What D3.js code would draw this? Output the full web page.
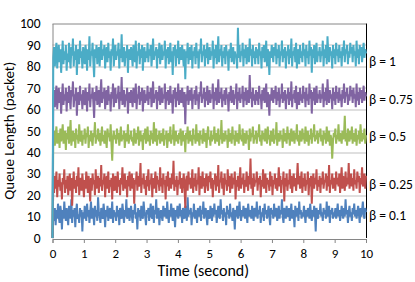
<!DOCTYPE html>
<meta charset="utf-8">
<script src="https://d3js.org/d3.v7.min.js"></script>
<style>
  body { margin: 0; background: #fff; }
  text { font-family: Carlito, Lato, "Liberation Sans", sans-serif; fill: #000; }
</style>
<div id="my_dataviz"></div>

<script>

// Data: queue length samples over 0..10 s, one array per beta
var xTicks = [0, 1, 2, 3, 4, 5, 6, 7, 8, 9, 10];
var yTicks = [0, 10, 20, 30, 40, 50, 60, 70, 80, 90, 100];
var labels = ["β = 0.1", "β = 0.25", "β = 0.5", "β = 0.75", "β = 1"];
var labelLevels = [10.7, 25, 47.5, 64.8, 82.5];
var colors = ["#4F81BD", "#C0504D", "#9BBB59", "#8064A2", "#4BACC6"];

var beta01 = [0, 11, 8, 14, 6, 13, 9, 16, 10, 7, 15, 12, 4, 13, 9, 17, 11, 8, 14, 10,
  6, 15, 12, 9, 18, 7, 13, 10, 14, 5, 12, 16, 9, 11, 7, 14, 10, 13, 3, 12,
  9, 15, 11, 8, 16, 10, 13, 7, 12, 17, 9, 14, 11, 6, 15, 10, 13, 8, 19, 12,
  10, 7, 14, 11, 9, 16, 12, 5, 13, 10, 15, 8, 12, 14, 9, 11, 17, 7, 13, 10,
  12, 8, 15, 10, 13, 6, 14, 11, 9, 16, 12, 7, 13, 10, 18, 9, 11, 14, 8, 12,
  15, 10, 7, 13, 11, 16, 9, 12, 4, 14, 10, 13, 8, 15, 11, 9, 17, 12, 10, 6,
  13, 11, 14, 8, 12, 16, 10, 9, 15, 7, 13, 11, 18, 9, 12, 14, 6, 11, 13, 10,
  8, 15, 12, 10, 14, 9, 17, 11, 7, 13, 10, 16, 12, 8, 14, 11, 5, 13, 10, 15,
  9, 12, 16, 10, 13, 7, 14, 11, 9, 15, 12, 8, 19, 10, 13, 11, 14, 6, 12, 10,
  16, 9, 13, 11, 7, 14, 12, 10, 15, 8, 13, 11, 17, 9, 12, 14, 10, 6, 13, 11,
  9, 15, 12, 8, 14, 10, 16, 11, 13, 7, 12, 15, 10, 9, 18, 11, 13, 8, 14, 10,
  12, 6, 15, 11, 13, 9, 16, 10, 12, 8, 14, 11, 4, 13, 10, 15, 9, 12, 17, 11,
  8, 13, 10, 15, 12, 9, 14, 11, 7, 16, 12, 10, 13, 9, 15, 11, 8, 14, 12, 10,
  17, 9, 13, 11, 15, 7, 12, 10, 14, 8, 16, 11, 13, 9, 12, 15, 10, 6, 14, 11,
  13, 9, 16, 10, 12, 14, 8, 11, 15, 9, 13, 11, 18, 10, 7, 14, 12, 9, 15, 11,
  10, 14, 8, 12, 16, 9, 13, 11, 5, 15, 10, 12, 14, 8, 17, 11, 13, 9, 12, 10,
  15, 11, 7, 13, 10, 14, 12, 9, 16, 11, 8, 13, 10, 15, 12, 3, 14, 11, 9, 13,
  11, 16, 10, 12, 8, 14, 11, 13, 9, 17, 10, 12, 15, 7, 13, 11, 14, 9, 12, 10,
  14, 9, 12, 16, 10, 13, 8, 11, 15, 12, 9, 14, 10, 18, 11, 13, 7, 12, 15, 10,
  12, 8, 14, 11, 16, 10, 13, 9, 12, 15, 11, 7, 14, 10, 13, 17, 11, 9, 14, 12];

var beta025 = [0, 25, 21, 29, 23, 31, 19, 27, 24, 30, 22, 26, 18, 28, 25, 32, 21, 27, 23, 29,
  20, 26, 30, 22, 28, 15, 25, 31, 23, 27, 21, 29, 24, 33, 20, 26, 28, 22, 30, 25,
  19, 27, 23, 31, 26, 21, 29, 24, 17, 28, 22, 30, 25, 27, 20, 32, 23, 26, 29, 21,
  28, 24, 34, 22, 27, 25, 30, 19, 26, 29, 23, 31, 21, 27, 24, 28, 18, 30, 25, 22,
  29, 26, 21, 31, 24, 27, 20, 28, 25, 33, 22, 26, 30, 23, 27, 19, 29, 24, 31, 22,
  26, 30, 23, 28, 16, 27, 25, 31, 22, 29, 24, 26, 35, 21, 28, 25, 30, 23, 27, 20,
  29, 24, 32, 22, 27, 25, 30, 19, 28, 23, 26, 31, 21, 29, 25, 27, 22, 33, 24, 28,
  21, 30, 25, 27, 18, 29, 24, 31, 22, 26, 28, 23, 30, 25, 36, 22, 27, 24, 29, 20,
  27, 25, 31, 23, 28, 21, 26, 30, 24, 14, 27, 29, 22, 31, 25, 28, 23, 26, 32, 21,
  28, 24, 30, 22, 27, 25, 33, 20, 29, 26, 23, 31, 24, 28, 21, 27, 30, 25, 22, 29,
  26, 31, 23, 28, 19, 27, 25, 30, 22, 29, 24, 34, 21, 27, 26, 31, 23, 28, 20, 30,
  25, 27, 22, 32, 24, 29, 21, 26, 30, 23, 28, 25, 31, 18, 27, 24, 29, 22, 26, 33,
  23, 28, 25, 30, 21, 27, 24, 31, 26, 22, 29, 25, 37, 23, 28, 20, 30, 24, 27, 26,
  31, 22, 28, 25, 29, 19, 27, 24, 32, 23, 26, 30, 21, 28, 25, 27, 22, 31, 24, 29,
  20, 27, 25, 30, 23, 28, 22, 26, 33, 24, 29, 21, 27, 25, 31, 17, 28, 24, 30, 22,
  27, 25, 32, 23, 29, 21, 26, 30, 24, 28, 22, 27, 35, 25, 29, 23, 26, 31, 21, 28,
  24, 30, 22, 27, 25, 31, 20, 28, 24, 29, 16, 26, 30, 23, 28, 25, 32, 22, 27, 24,
  29, 21, 28, 25, 31, 23, 27, 26, 30, 22, 29, 24, 34, 21, 27, 25, 30, 23, 28, 26,
  22, 31, 25, 28, 24, 30, 21, 27, 33, 23, 29, 26, 22, 31, 24, 28, 25, 35, 23, 27,
  30, 24, 28, 22, 32, 25, 27, 23, 31, 26, 29, 21, 28, 25, 33, 24, 27, 30, 23, 29];

var beta05 = [0, 46, 50, 43, 48, 52, 44, 47, 49, 42, 51, 45, 48, 53, 44, 47, 50, 41, 49, 46,
  52, 44, 48, 55, 43, 47, 50, 45, 49, 42, 51, 46, 48, 44, 53, 47, 45, 50, 43, 48,
  46, 51, 44, 49, 47, 52, 42, 48, 45, 50, 46, 43, 49, 47, 54, 44, 48, 46, 51, 45,
  49, 43, 47, 52, 45, 48, 44, 50, 46, 42, 51, 47, 49, 45, 53, 44, 36, 47, 50, 46,
  48, 44, 51, 46, 49, 43, 47, 52, 45, 48, 46, 50, 42, 47, 49, 45, 53, 44, 48, 46,
  50, 45, 47, 43, 51, 48, 44, 49, 46, 52, 43, 47, 50, 45, 48, 41, 49, 46, 51, 44,
  47, 52, 45, 48, 43, 50, 46, 49, 44, 54, 47, 45, 51, 43, 48, 46, 50, 44, 47, 49,
  45, 51, 43, 48, 46, 50, 42, 47, 49, 45, 52, 44, 48, 46, 53, 43, 47, 50, 45, 48,
  44, 49, 46, 51, 43, 47, 50, 45, 48, 40, 49, 46, 52, 44, 47, 50, 45, 48, 43, 51,
  46, 48, 44, 53, 45, 49, 47, 43, 50, 46, 48, 44, 51, 47, 45, 49, 42, 48, 52, 46,
  47, 43, 50, 45, 48, 46, 52, 44, 49, 47, 45, 51, 43, 48, 46, 55, 44, 49, 47, 45,
  50, 46, 48, 42, 51, 45, 47, 49, 44, 52, 46, 48, 43, 50, 47, 45, 49, 44, 53, 46,
  48, 45, 51, 43, 49, 47, 44, 50, 46, 48, 41, 51, 45, 49, 47, 52, 44, 48, 46, 50,
  44, 49, 47, 53, 45, 48, 43, 50, 46, 49, 45, 51, 47, 44, 52, 46, 48, 43, 50, 47,
  45, 51, 44, 48, 46, 54, 43, 49, 47, 45, 50, 46, 48, 42, 51, 45, 49, 47, 44, 52,
  46, 49, 43, 48, 51, 45, 47, 50, 44, 49, 46, 53, 45, 48, 43, 50, 47, 45, 51, 46,
  49, 44, 52, 47, 45, 50, 43, 48, 46, 51, 44, 49, 47, 53, 45, 48, 46, 50, 44, 49,
  47, 51, 45, 48, 43, 50, 46, 49, 44, 52, 47, 45, 50, 43, 48, 46, 37, 45, 49, 47,
  51, 44, 48, 46, 53, 45, 49, 47, 44, 50, 46, 48, 57, 45, 49, 43, 51, 47, 45, 50,
  46, 52, 44, 49, 47, 45, 51, 43, 48, 46, 50, 44, 53, 47, 45, 49, 46, 51, 44, 48];

var beta075 = [0, 65, 69, 61, 67, 71, 60, 66, 70, 63, 68, 58, 66, 72, 62, 67, 64, 70, 59, 68,
  63, 71, 65, 60, 69, 66, 73, 61, 67, 64, 70, 57, 66, 68, 62, 71, 64, 67, 60, 69,
  65, 62, 70, 66, 59, 68, 64, 72, 61, 67, 65, 70, 63, 56, 68, 64, 71, 62, 66, 69,
  61, 67, 74, 63, 68, 65, 70, 60, 66, 69, 62, 71, 64, 67, 59, 68, 65, 72, 61, 66,
  70, 63, 67, 65, 71, 60, 68, 64, 75, 62, 66, 69, 61, 67, 64, 70, 58, 66, 68, 63,
  69, 65, 61, 70, 66, 63, 72, 60, 67, 65, 71, 62, 68, 64, 70, 59, 66, 69, 63, 67,
  64, 71, 62, 68, 65, 70, 61, 66, 73, 63, 67, 65, 69, 60, 68, 64, 71, 62, 66, 70,
  63, 67, 65, 72, 60, 68, 64, 69, 62, 66, 71, 63, 67, 58, 69, 65, 70, 61, 68, 64,
  72, 62, 66, 69, 63, 70, 65, 61, 68, 53, 67, 64, 71, 62, 66, 69, 64, 70, 60, 67,
  65, 69, 62, 71, 64, 67, 60, 68, 66, 73, 63, 67, 65, 70, 61, 68, 64, 71, 62, 66,
  69, 63, 67, 65, 72, 60, 68, 64, 70, 62, 66, 74, 63, 68, 65, 70, 61, 67, 64, 69,
  62, 70, 65, 67, 59, 68, 64, 71, 63, 66, 69, 62, 67, 65, 72, 60, 68, 64, 70, 63,
  67, 65, 71, 61, 68, 64, 70, 62, 66, 69, 63, 76, 65, 68, 61, 70, 64, 67, 62, 69,
  64, 68, 62, 71, 65, 67, 60, 69, 64, 70, 63, 66, 72, 61, 68, 65, 57, 67, 64, 70,
  66, 63, 69, 65, 71, 62, 68, 64, 70, 61, 67, 65, 72, 63, 68, 64, 69, 60, 67, 65,
  70, 62, 68, 64, 73, 61, 67, 65, 69, 63, 71, 60, 66, 68, 62, 70, 64, 67, 63, 71,
  65, 68, 61, 70, 64, 67, 62, 72, 65, 69, 58, 68, 64, 70, 62, 66, 71, 63, 67, 65,
  69, 63, 67, 65, 72, 61, 68, 64, 70, 62, 74, 66, 63, 69, 65, 67, 60, 70, 64, 68,
  62, 71, 65, 68, 63, 70, 64, 67, 61, 69, 65, 72, 63, 68, 66, 70, 62, 67, 64, 71,
  66, 69, 63, 70, 65, 67, 61, 72, 64, 68, 62, 70, 65, 69, 63, 67, 71, 64, 68, 66];

var beta1 = [0, 84, 89, 80, 87, 91, 79, 86, 90, 82, 88, 77, 85, 92, 81, 87, 83, 90, 78, 86,
  82, 91, 84, 79, 89, 85, 93, 80, 87, 83, 90, 76, 86, 88, 81, 92, 84, 87, 79, 89,
  85, 81, 90, 86, 78, 88, 83, 94, 80, 87, 85, 91, 82, 75, 88, 84, 90, 81, 86, 89,
  80, 87, 92, 83, 88, 85, 90, 79, 86, 89, 82, 91, 84, 87, 78, 88, 85, 93, 80, 86,
  90, 83, 87, 85, 91, 79, 88, 84, 95, 82, 86, 89, 80, 87, 84, 90, 77, 86, 88, 83,
  89, 85, 80, 90, 86, 82, 92, 79, 87, 85, 91, 81, 88, 84, 90, 78, 86, 89, 82, 87,
  84, 91, 82, 88, 85, 90, 80, 86, 93, 83, 87, 85, 89, 79, 88, 84, 91, 81, 86, 90,
  83, 87, 85, 92, 79, 88, 84, 89, 81, 86, 91, 82, 87, 76, 89, 85, 90, 80, 88, 84,
  92, 81, 86, 89, 83, 90, 85, 80, 88, 74, 87, 84, 91, 81, 86, 89, 83, 90, 79, 87,
  85, 89, 81, 91, 84, 87, 79, 88, 86, 93, 82, 87, 85, 90, 80, 88, 84, 91, 81, 86,
  89, 83, 87, 85, 92, 79, 88, 84, 90, 81, 86, 94, 82, 88, 85, 90, 80, 87, 84, 89,
  81, 90, 85, 87, 78, 88, 84, 91, 82, 86, 89, 81, 87, 85, 85, 79, 98, 84, 90, 82,
  87, 85, 91, 80, 88, 84, 90, 81, 86, 89, 82, 93, 85, 88, 80, 90, 84, 87, 81, 89,
  84, 88, 81, 91, 85, 87, 79, 89, 84, 90, 82, 86, 92, 80, 88, 85, 76, 87, 84, 90,
  86, 82, 89, 85, 91, 81, 88, 84, 90, 80, 87, 85, 92, 82, 88, 84, 89, 79, 87, 85,
  90, 81, 88, 84, 93, 80, 87, 85, 89, 82, 91, 79, 86, 88, 81, 90, 84, 87, 82, 91,
  85, 88, 80, 90, 84, 87, 81, 92, 85, 89, 77, 88, 84, 90, 81, 86, 91, 82, 87, 85,
  89, 82, 87, 85, 92, 80, 88, 84, 90, 81, 94, 86, 82, 89, 85, 87, 79, 90, 84, 88,
  81, 91, 85, 88, 82, 90, 84, 87, 80, 89, 85, 92, 82, 88, 86, 90, 81, 87, 84, 91,
  86, 89, 82, 90, 85, 87, 80, 92, 84, 88, 81, 90, 85, 89, 82, 87, 91, 84, 88, 86];

var series = [beta01, beta025, beta05, beta075, beta1];

// Margins
var margin = { top: 23.5, right: 49, bottom: 44, left: 52.5 },
    width = 415 - margin.left - margin.right,
    height = 282 - margin.top - margin.bottom;

var svg = d3.select("#my_dataviz")
  .append("svg")
    .attr("width", 415)
    .attr("height", 282)
  .append("g")
    .attr("transform", "translate(" + margin.left + "," + margin.top + ")");

var x = d3.scaleLinear().domain([0, 10]).range([0, width]);
var y = d3.scaleLinear().domain([0, 100]).range([height, 0]);

// Gridlines
svg.append("g")
  .selectAll("line")
  .data(yTicks.slice(1, -1))
  .enter()
  .append("line")
    .attr("x1", 0)
    .attr("x2", width)
    .attr("y1", function(d) { return Math.round(y(d)) + 0.5; })
    .attr("y2", function(d) { return Math.round(y(d)) + 0.5; })
    .style("stroke", "#BFBFBF")
    .style("stroke-width", 1);

// Top frame line
svg.append("line")
  .attr("x1", 0).attr("x2", width)
  .attr("y1", Math.round(y(100)) + 0.5).attr("y2", Math.round(y(100)) + 0.5)
  .style("stroke", "#868686");

// X axis
var xAxis = svg.append("g")
  .attr("transform", "translate(0," + (Math.round(height) + 0.5) + ")")
  .call(d3.axisBottom(x).tickValues(xTicks).tickSize(4).tickPadding(6).tickFormat(d3.format("d")));
xAxis.select(".domain").attr("stroke", "#868686");
xAxis.selectAll(".tick line").attr("stroke", "#868686");
xAxis.selectAll("text").style("font-size", "13px").attr("fill", "#000");

// Y axis
var yAxis = svg.append("g")
  .call(d3.axisLeft(y).tickValues(yTicks).tickSize(0).tickPadding(12));
yAxis.select(".domain").attr("stroke", "#868686");
yAxis.selectAll("text").style("font-size", "13.5px").attr("fill", "#000");

// Right frame line
svg.append("line")
  .attr("x1", width + 0.5).attr("x2", width + 0.5)
  .attr("y1", y(100)).attr("y2", y(0))
  .style("stroke", "#000");

// Lines
var line = function(values) {
  return d3.line()
    .x(function(d, i) { return x(i * 10 / (values.length - 1)); })
    .y(function(d) { return y(d); })(values);
};

svg.append("g")
  .selectAll("path")
  .data(series)
  .enter()
  .append("path")
    .attr("d", line)
    .style("fill", "none")
    .style("stroke", function(d, i) { return colors[i]; })
    .style("stroke-width", 2);

// Labels on the right
svg.append("g")
  .selectAll("text")
  .data(labels)
  .enter()
  .append("text")
    .attr("x", width + 3)
    .attr("y", function(d, i) { return y(labelLevels[i]); })
    .attr("dy", "0.35em")
    .style("font-size", "13.5px")
    .text(function(d) { return d; });

// Axis titles
svg.append("text")
  .attr("text-anchor", "middle")
  .attr("x", width / 2 - 6)
  .attr("y", height + 38)
  .style("font-size", "16px")
  .text("Time (second)");

svg.append("text")
  .attr("text-anchor", "middle")
  .attr("transform", "rotate(-90)")
  .attr("x", -height / 2)
  .attr("y", -margin.left + 14)
  .style("font-size", "15px")
  .text("Queue Length (packet)");

</script>
